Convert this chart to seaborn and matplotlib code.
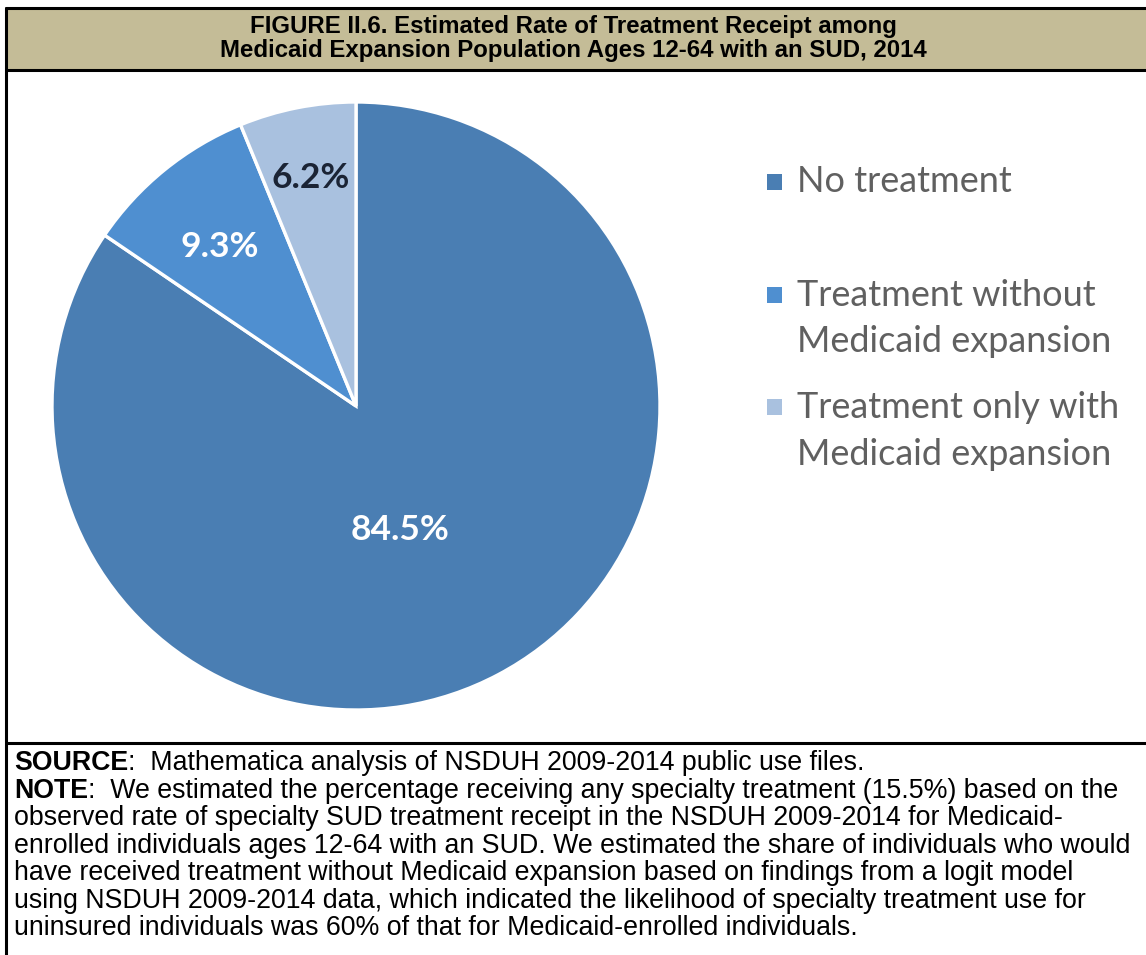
import matplotlib
matplotlib.use("Agg")
import matplotlib.pyplot as plt
import seaborn as sns
import numpy as np
from matplotlib.lines import Line2D
from matplotlib.patches import Rectangle

# ---------------- data ----------------
categories = ["No treatment",
              "Treatment without\nMedicaid expansion",
              "Treatment only with\nMedicaid expansion"]
shares = [84.5, 9.3, 6.2]
value_labels = ["84.5%", "9.3%", "6.2%"]

title_lines = ["FIGURE II.6. Estimated Rate of Treatment Receipt among",
               "Medicaid Expansion Population Ages 12-64 with an SUD, 2014"]
source_head = "SOURCE"
source_body = ":  Mathematica analysis of NSDUH 2009-2014 public use files."
note_head = "NOTE"
note_body = [":  We estimated the percentage receiving any specialty treatment (15.5%) based on the",
             "observed rate of specialty SUD treatment receipt in the NSDUH 2009-2014 for Medicaid-",
             "enrolled individuals ages 12-64 with an SUD. We estimated the share of individuals who would",
             "have received treatment without Medicaid expansion based on findings from a logit model",
             "using NSDUH 2009-2014 data, which indicated the likelihood of specialty treatment use for",
             "uninsured individuals was 60% of that for Medicaid-enrolled individuals."]

# ---------------- style ----------------
slice_colors = ["#4A7EB3", "#4F8FD0", "#A9C1DF"]
label_colors = ["white", "white", "#1B2435"]
label_radius = [0.433, 0.688, 0.765]
label_angle_shift = [-8.4, 1.5, 0.2]
band_color = "#C4BC97"

W, H = 1146, 955
sns.set_theme(style="white")
plt.rcParams["font.family"] = ["Liberation Sans", "DejaVu Sans"]

fig = plt.figure(figsize=(W / 100, H / 100), dpi=100)
fig.patch.set_facecolor("white")


def fx(x):
    return x / W


def fy(y):
    return 1 - y / H


# title band
fig.add_artist(Rectangle((fx(6), fy(70)), fx(W) - fx(6), fy(8) - fy(70),
                         transform=fig.transFigure, facecolor=band_color,
                         edgecolor="none", zorder=0))
for yy in (8, 70, 743):
    fig.add_artist(Line2D([fx(6), 1], [fy(yy), fy(yy)], transform=fig.transFigure,
                          color="black", lw=2.2))
fig.add_artist(Line2D([fx(6), fx(6)], [fy(8), 0], transform=fig.transFigure,
                      color="black", lw=2.2))

for i, line in enumerate(title_lines):
    fig.text(fx(573), fy(26 + 25 * i), line, ha="center", va="center",
             fontsize=17.3, fontweight="bold", color="black")

# pie
cx, cy, r = 356, 406, 304
ax = fig.add_axes([fx(cx - r), fy(cy + r), 2 * r / W, 2 * r / H])
wedges, _ = ax.pie(shares, colors=slice_colors, startangle=90, counterclock=False,
                   radius=1, wedgeprops=dict(edgecolor="white", linewidth=2.4))
ax.set_xlim(-1, 1)
ax.set_ylim(-1, 1)
ax.set_aspect("equal")
ax.axis("off")
for w, lab, col, rr, da in zip(wedges, value_labels, label_colors, label_radius, label_angle_shift):
    ang = np.deg2rad((w.theta1 + w.theta2) / 2 + da)
    ax.text(rr * np.cos(ang), rr * np.sin(ang), lab, ha="center", va="center",
            fontsize=25.5, fontweight="bold", color=col, family=["Lato", "DejaVu Sans"])

# legend (manual, Excel-like)
entry_y = [182, 295, 407]
line_gap = 47
for cat, col, y0 in zip(categories, slice_colors, entry_y):
    fig.add_artist(Rectangle((fx(767), fy(y0 + 8)), 15 / W, 16 / H,
                             transform=fig.transFigure, facecolor=col, edgecolor="none"))
    for k, part in enumerate(cat.split("\n")):
        fig.text(fx(797), fy(y0 + k * line_gap), part, ha="left", va="center",
                 fontsize=26, color="#606060", family=["Lato", "DejaVu Sans"])

# notes
fs_note = 19.3
y_first = 763
step = 27.5
renderer = fig.canvas.get_renderer()
heads = [(source_head, source_body), (note_head, note_body[0])]
for i, (hd, body) in enumerate(heads):
    t = fig.text(fx(14), fy(y_first + step * i), hd, ha="left", va="center",
                 fontsize=fs_note, fontweight="bold", color="black")
    bb = t.get_window_extent(renderer)
    fig.text(bb.x1 / W, fy(y_first + step * i), body, ha="left", va="center",
             fontsize=fs_note, color="black")
for j, line in enumerate(note_body[1:]):
    fig.text(fx(14), fy(y_first + step * (j + 2)), line, ha="left", va="center",
             fontsize=fs_note, color="black")

fig.savefig("out.png", dpi=100, facecolor="white")
